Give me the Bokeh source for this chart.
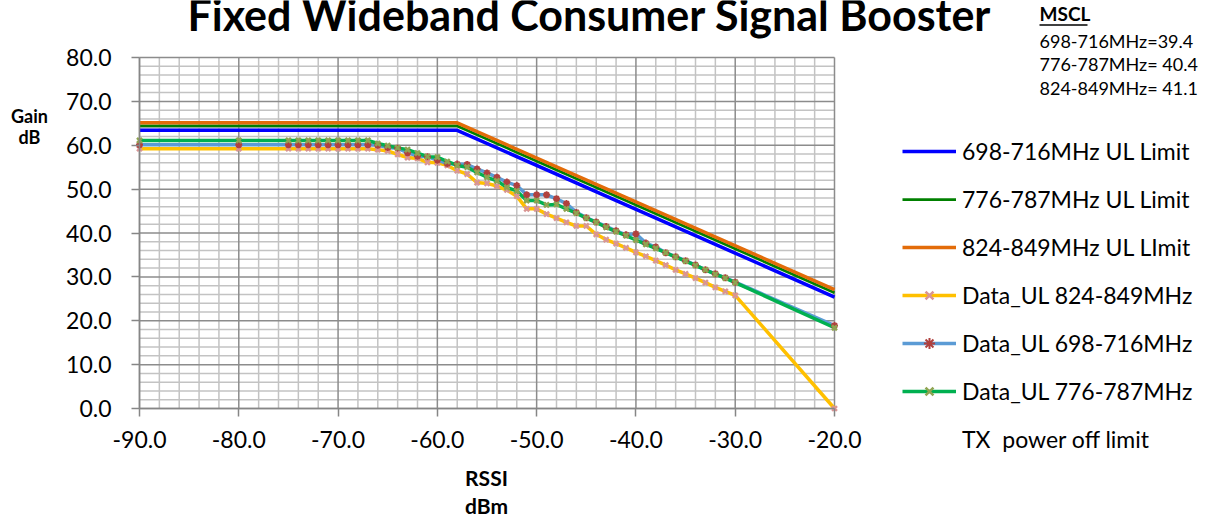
from bokeh.plotting import figure
from bokeh.models import (Range1d, SingleIntervalTicker, NumeralTickFormatter, Legend,
                          LegendItem, Label)
from bokeh.embed import file_html
from bokeh.resources import INLINE

# ---------------- data ----------------
rssi = [-90, -80, -75, -74, -73, -72, -71, -70, -69, -68, -67, -66, -65, -64, -63, -62,
        -61, -60, -59, -58, -57, -56, -55, -54, -53, -52, -51, -50, -49, -48, -47, -46,
        -45, -44, -43, -42, -41, -40, -39, -38, -37, -36, -35, -34, -33, -32, -31, -30, -20]

data_824 = [59.2, 59.2, 59.2, 59.2, 59.2, 59.2, 59.2, 59.2, 59.2, 59.2, 59.2, 59.0, 58.7, 57.9,
            57.2, 57.0, 56.1, 56.0, 55.4, 54.2, 53.4, 51.5, 51.3, 50.7, 49.8, 48.4, 45.5, 45.5,
            44.3, 43.4, 42.4, 41.6, 41.6, 39.7, 38.5, 37.6, 36.6, 35.6, 34.7, 33.7, 32.7, 31.6,
            30.7, 29.7, 28.7, 27.6, 26.7, 25.8, 0.0]

data_698 = [60.1, 60.1, 60.1, 60.1, 60.1, 60.1, 60.1, 60.1, 60.1, 60.1, 60.1, 60.0, 59.5, 59.3,
            58.3, 57.5, 57.4, 56.6, 55.8, 55.7, 55.6, 54.6, 53.7, 52.7, 51.6, 50.8, 48.7, 48.7,
            48.7, 47.8, 46.7, 44.7, 43.5, 42.5, 41.5, 40.5, 39.6, 39.8, 37.7, 36.8, 35.5, 34.6,
            33.7, 32.7, 31.6, 30.7, 29.8, 28.8, 18.9]

data_776 = [61.1, 61.1, 61.1, 61.1, 61.1, 61.1, 61.1, 61.1, 61.1, 61.1, 61.1, 60.4, 59.9, 59.4,
            59.0, 58.2, 57.4, 57.3, 56.3, 55.4, 55.0, 53.8, 52.7, 51.9, 50.4, 49.6, 47.4, 47.4,
            46.4, 46.5, 45.5, 44.5, 43.4, 42.4, 41.3, 40.3, 39.4, 38.4, 37.4, 36.5, 35.5, 34.5,
            33.6, 32.6, 31.6, 30.6, 29.7, 28.7, 18.4]

limit_x = [-90, -58, -20]
limit_698 = [63.4, 63.4, 25.4]
limit_776 = [64.4, 64.4, 26.4]
limit_824 = [65.1, 65.1, 27.1]

tx_off_x = []
tx_off_y = []

series_labels = ["698-716MHz UL Limit", "776-787MHz UL Limit", "824-849MHz UL LImit",
                 "Data_UL 824-849MHz", "Data_UL 698-716MHz", "Data_UL 776-787MHz",
                 "TX  power off limit"]
mscl_title = "MSCL"
mscl_lines = ["698-716MHz=39.4", "776-787MHz= 40.4", "824-849MHz= 41.1"]
title_text = "Fixed Wideband Consumer Signal Booster"
y_caption = ["Gain", "dB"]
x_caption = ["RSSI", "dBm"]

# axis extents and grid steps
X_MIN, X_MAX, Y_MIN, Y_MAX = -90, -20, 0, 80
MAJOR, MINOR = 10, 2

# ---------------- styles ----------------
FONT = "Lato"
C_L698, C_L776, C_L824 = "#0000FF", "#008000", "#E36C09"
C_D824, C_D698, C_D776 = "#FFC000", "#5B9BD5", "#00B050"
M_D824, M_D698, M_D776 = "#D99594", "#B0413E", "#8FA451"
C_TX = "#FF0000"
AXIS_C, MAJ_C, MIN_C = "#868686", "#8C8C8C", "#C3C3C3"

# page geometry: the plotting area sits at these page pixels
W, H = 1214, 529
FL, FR, FT, FB = 139, 834, 57, 408
XS = (X_MAX - X_MIN) / (FR - FL)       # data units per pixel
YS = (Y_MAX - Y_MIN) / (FB - FT)


def dx(px):
    return X_MIN + (px - FL) * XS


def dy(py):
    return Y_MIN + (FB - py) * YS


p = figure(width=W, height=H, output_backend="svg", toolbar_location=None,
           title_location=None, min_border=0,
           x_range=Range1d(dx(0), dx(W)), y_range=Range1d(dy(H), dy(0)))
p.outline_line_color = None
p.background_fill_color = "white"
p.border_fill_color = "white"
p.grid.visible = False

# axes drawn at the edges of the data area
p.xaxis.fixed_location = Y_MIN
p.yaxis.fixed_location = X_MIN
p.xaxis.bounds = (X_MIN, X_MAX)
p.yaxis.bounds = (Y_MIN, Y_MAX)
for ax in (p.xaxis, p.yaxis):
    ax.ticker = SingleIntervalTicker(interval=MAJOR)
    ax.formatter = NumeralTickFormatter(format="0.0")
    ax.axis_line_color = AXIS_C
    ax.axis_line_width = 1.5
    ax.major_tick_line_color = AXIS_C
    ax.major_tick_line_width = 1.5
    ax.major_tick_in = 0
    ax.major_tick_out = 8
    ax.minor_tick_line_color = None
    ax.major_label_text_font = FONT
    ax.major_label_text_font_size = "23px"
    ax.major_label_text_color = "black"
p.xaxis.major_label_standoff = 14
p.yaxis.major_label_standoff = 20

# grid lines limited to the data area
gx_minor = [v for v in range(X_MIN, X_MAX + 1, MINOR) if v % MAJOR]
gy_minor = [v for v in range(Y_MIN, Y_MAX + 1, MINOR) if v % MAJOR]
gx_major = list(range(X_MIN, X_MAX + 1, MAJOR))
gy_major = list(range(Y_MIN, Y_MAX + 1, MAJOR))
p.segment(x0=gx_minor, y0=[Y_MIN] * len(gx_minor), x1=gx_minor, y1=[Y_MAX] * len(gx_minor),
          line_color=MIN_C, line_width=1.5, level="underlay")
p.segment(x0=[X_MIN] * len(gy_minor), y0=gy_minor, x1=[X_MAX] * len(gy_minor), y1=gy_minor,
          line_color=MIN_C, line_width=1.5, level="underlay")
p.segment(x0=gx_major, y0=[Y_MIN] * len(gx_major), x1=gx_major, y1=[Y_MAX] * len(gx_major),
          line_color=MAJ_C, line_width=1.5, level="underlay")
p.segment(x0=[X_MIN] * len(gy_major), y0=gy_major, x1=[X_MAX] * len(gy_major), y1=gy_major,
          line_color=MAJ_C, line_width=1.5, level="underlay")

# series
r1 = p.line(limit_x, limit_698, line_color=C_L698, line_width=3.5)
r2 = p.line(limit_x, limit_776, line_color=C_L776, line_width=2.75)
r3 = p.line(limit_x, limit_824, line_color=C_L824, line_width=3.5)

r4 = p.line(rssi, data_824, line_color=C_D824, line_width=3.5)
r5 = p.line(rssi, data_698, line_color=C_D698, line_width=3.5)
r6 = p.line(rssi, data_776, line_color=C_D776, line_width=3.5)

m4 = p.scatter(rssi, data_824, marker="x", size=7, line_color=M_D824, line_width=2.5)
m5 = p.scatter(rssi, data_698, marker="asterisk", size=7, line_color=M_D698, line_width=2)
m6 = p.scatter(rssi, data_776, marker="x", size=7, line_color=M_D776, line_width=2.5)

r7 = p.line(tx_off_x, tx_off_y, line_color=C_TX, line_width=1)

# legend
ITEM_H, GAP = 28, 20
LEG_H = 7 * ITEM_H + 6 * GAP
legend = Legend(items=[LegendItem(label=l, renderers=r) for l, r in zip(
    series_labels, [[r1], [r2], [r3], [r4, m4], [r5, m5], [r6, m6], [r7]])],
    location=(902, H - (151 - ITEM_H / 2) - LEG_H), orientation="vertical",
    label_text_font=FONT, label_text_font_size="23px", label_text_color="black",
    glyph_width=54, glyph_height=ITEM_H, label_height=ITEM_H, label_standoff=6,
    spacing=GAP, padding=0, margin=0, border_line_color=None,
    background_fill_alpha=0)
p.add_layout(legend)


def label(px, py, text, size, bold=False, align="left"):
    p.add_layout(Label(x=dx(px), y=dy(py), text=text, text_align=align,
                       text_baseline="middle", text_font=FONT,
                       text_font_style="bold" if bold else "normal",
                       text_font_size=size, text_color="black"))


label(589, 14, title_text, "43px", bold=True, align="center")
label(1039, 13, mscl_title, "19px", bold=True)
p.segment(x0=[dx(1039)], y0=[dy(24.5)], x1=[dx(1087)], y1=[dy(24.5)],
          line_color="black", line_width=1.5)
for i, t in enumerate(mscl_lines):
    label(1039, 40 + 23.5 * i, t, "18px")
for t, yy in zip(y_caption, (115, 136)):
    label(29, yy, t, "18px", bold=True, align="center")
for t, yy in zip(x_caption, (477, 505)):
    label(486, yy, t, "21px", bold=True, align="center")

open("out.html", "w").write(file_html(p, INLINE))
